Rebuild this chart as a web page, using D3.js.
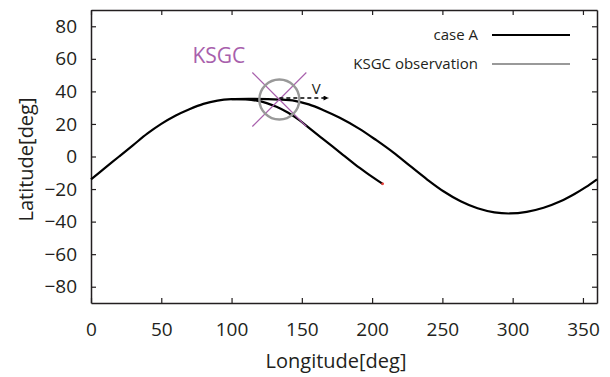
<!DOCTYPE html>
<html>
<head>
<meta charset="utf-8">
<script src="https://cdn.jsdelivr.net/npm/d3@7"></script>
<style>
  body { margin: 0; background: #fff; }
  text { font-family: "Open Sans", sans-serif; fill: #231f20; }
</style>
</head>
<body>
<svg id="chart" width="610" height="377"></svg>
<script>
// ground track, case A (full pass)
const trackLon = [0, 10, 20, 30, 40, 50, 60, 70, 80, 90, 100, 115, 134, 145, 155, 165, 177, 191, 203, 215, 227, 239, 251, 263, 275, 287, 298, 310, 322, 334, 344, 352, 360];
const trackLat = [-14, -7, 0, 7, 14, 20, 25, 29, 32.3, 34.3, 35.2, 35.4, 35, 34.2, 32, 28.6, 23.8, 17, 10, 2.5, -5.8, -14, -21.5, -27.5, -31.8, -34.3, -35, -34, -31.5, -27.5, -23, -18.8, -14];

// lower branch after the split
const branchLon = [100, 110, 118, 125, 132, 140, 148, 156, 164, 172, 180, 188, 196, 207.5];
const branchLat = [35.2, 35.1, 34.3, 32.8, 30.5, 27, 22.5, 17, 11.5, 6, 0.5, -5, -10, -16.8];

// KSGC station and velocity arrow
const ksgc = { lon: 134, lat: 35 };
const arrowEndLon = 169;

const xTicks = [0, 50, 100, 150, 200, 250, 300, 350];
const yTicks = [-80, -60, -40, -20, 0, 20, 40, 60, 80];
const legendNames = ["case A", "KSGC observation"];
const legendColors = ["#000000", "#999999"];

const svg = d3.select("#chart");
const margin = { left: 91, top: 10, right: 13, bottom: 74 };
const width = 610 - margin.left - margin.right;
const height = 377 - margin.top - margin.bottom;

const g = svg.append("g")
  .attr("transform", "translate(" + margin.left + "," + margin.top + ")");

const x = d3.scaleLinear().domain([0, 360]).range([0, width]);
const y = d3.scaleLinear().domain([-90, 90]).range([height, 0]);

// axes with inward ticks on all sides
const axisColor = "#231f20";
function styleAxis(sel) {
  sel.select(".domain").attr("stroke", axisColor).attr("stroke-width", 1.5);
  sel.selectAll(".tick line").attr("stroke", axisColor).attr("stroke-width", 1.2);
  sel.selectAll(".tick text").attr("fill", axisColor).style("font-size", "19px")
    .style("font-family", "'Open Sans', sans-serif");
}

g.append("g")
  .attr("transform", "translate(0," + height + ")")
  .call(d3.axisBottom(x).tickValues(xTicks).tickSizeInner(-5).tickSizeOuter(0).tickPadding(20))
  .call(styleAxis);

g.append("g")
  .call(d3.axisTop(x).tickValues(xTicks).tickSizeInner(-5).tickSizeOuter(0).tickFormat(""))
  .call(styleAxis);

g.append("g")
  .call(d3.axisLeft(y).tickValues(yTicks).tickSizeInner(-5).tickSizeOuter(0).tickPadding(14))
  .call(styleAxis);

g.append("g")
  .attr("transform", "translate(" + width + ",0)")
  .call(d3.axisRight(y).tickValues(yTicks).tickSizeInner(-5).tickSizeOuter(0).tickFormat(""))
  .call(styleAxis);

// axis titles
svg.append("text")
  .attr("x", margin.left + width / 2 - 8)
  .attr("y", 368)
  .attr("text-anchor", "middle")
  .style("font-size", "20px")
  .text("Longitude[deg]");

svg.append("text")
  .attr("transform", "translate(33," + (margin.top + height / 2 + 3) + ")rotate(-90)")
  .attr("text-anchor", "middle")
  .style("font-size", "20px")
  .text("Latitude[deg]");

// curves
const line = d3.line()
  .x(d => x(d[0]))
  .y(d => y(d[1]))
  .curve(d3.curveCatmullRom.alpha(0.5));

g.append("path")
  .datum(trackLon.map((v, i) => [v, trackLat[i]]))
  .attr("fill", "none")
  .attr("stroke", "#000")
  .attr("stroke-width", 2.2)
  .attr("d", line);

g.append("path")
  .datum(branchLon.map((v, i) => [v, branchLat[i]]))
  .attr("fill", "none")
  .attr("stroke", "#000")
  .attr("stroke-width", 2.2)
  .attr("d", line);

g.append("circle")
  .attr("cx", x(branchLon[branchLon.length - 1]))
  .attr("cy", y(branchLat[branchLat.length - 1]))
  .attr("r", 1.4)
  .attr("fill", "#e8403a");

// KSGC marker
const cx = x(ksgc.lon), cy = y(ksgc.lat);
const purple = "#a860ac";
g.append("line").attr("x1", cx - 27).attr("y1", cy - 27).attr("x2", cx + 27).attr("y2", cy + 27)
  .attr("stroke", purple).attr("stroke-width", 1.2);
g.append("line").attr("x1", cx + 27).attr("y1", cy - 27).attr("x2", cx - 27).attr("y2", cy + 27)
  .attr("stroke", purple).attr("stroke-width", 1.2);
g.append("circle").attr("cx", cx).attr("cy", cy).attr("r", 20)
  .attr("fill", "none").attr("stroke", "#999").attr("stroke-width", 2.4);

svg.append("text")
  .attr("x", margin.left + cx - 34)
  .attr("y", margin.top + cy - 37)
  .attr("text-anchor", "end")
  .style("font-size", "21px")
  .style("fill", purple)
  .text("KSGC");

// velocity arrow
svg.append("defs").append("marker")
  .attr("id", "arrow")
  .attr("viewBox", "0 0 10 10")
  .attr("refX", 10).attr("refY", 5)
  .attr("markerWidth", 7).attr("markerHeight", 5)
  .attr("markerUnits", "userSpaceOnUse")
  .attr("orient", "auto")
  .append("path").attr("d", "M0,0L10,5L0,10z").attr("fill", "#000");

g.append("line")
  .attr("x1", cx).attr("y1", cy - 1.5)
  .attr("x2", x(arrowEndLon)).attr("y2", cy - 1.5)
  .attr("stroke", "#000").attr("stroke-width", 1.6)
  .attr("stroke-dasharray", "4,3")
  .attr("marker-end", "url(#arrow)");

svg.append("text")
  .attr("x", margin.left + cx + 37)
  .attr("y", margin.top + cy - 6)
  .attr("text-anchor", "middle")
  .style("font-size", "15px")
  .text("V");

// legend
const legend = svg.append("g");
legendNames.forEach((name, i) => {
  const ly = 35 + i * 29;
  legend.append("text")
    .attr("x", 478).attr("y", ly)
    .attr("dy", "0.35em")
    .attr("text-anchor", "end")
    .style("font-size", "15px")
    .text(name);
  legend.append("line")
    .attr("x1", 492).attr("x2", 570)
    .attr("y1", ly).attr("y2", ly)
    .attr("stroke", legendColors[i])
    .attr("stroke-width", 2.2);
});
</script>
</body>
</html>
